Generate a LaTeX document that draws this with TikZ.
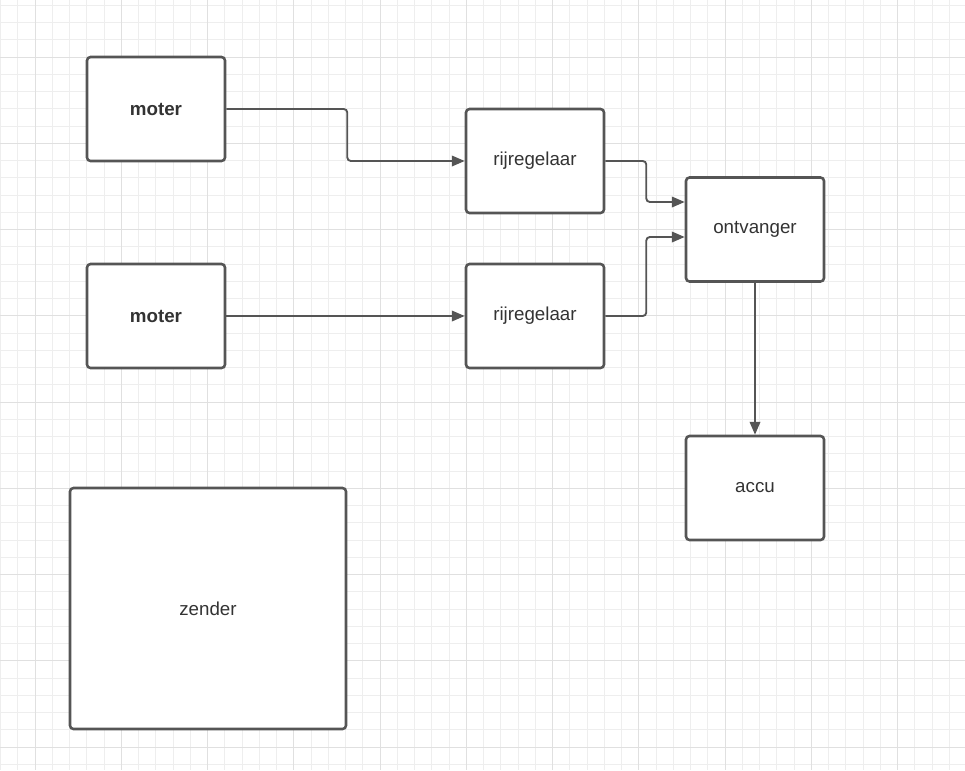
\documentclass[tikz,border=0pt]{standalone}
\usepackage{fontspec}
\setmainfont{Liberation Sans}
\usetikzlibrary{arrows.meta}

\definecolor{lijn}{HTML}{555555}
\definecolor{tekst}{HTML}{333333}
\definecolor{hulp}{HTML}{EEEEEE}
\definecolor{hulpdik}{HTML}{E0E0E0}

\begin{document}
\begin{tikzpicture}[x=0.03cm, y=-0.03cm,
  blok/.style={draw=lijn, line width=2.2pt, fill=white, rounded corners=3pt,
    minimum width=4.14cm, minimum height=3.12cm, text=tekst, font=\fontsize{16}{19}\selectfont},
  pijl/.style={draw=lijn, line width=1.6pt, rounded corners=3pt,
    -{Triangle[length=11pt, width=9pt]}}]
\useasboundingbox (0,0) rectangle (965,770);

% raster
\foreach \i in {0,...,55}
  \draw[hulp, line width=0.6pt] (0.5+17.25*\i, 0) -- ++(0, 770);
\foreach \j in {0,...,44}
  \draw[hulp, line width=0.6pt] (0, 5.25+17.25*\j) -- ++(965, 0);
\foreach \i in {0,...,11}
  \draw[hulpdik, line width=0.8pt] (35+86.25*\i, 0) -- ++(0, 770);
\foreach \j in {0,...,8}
  \draw[hulpdik, line width=0.8pt] (0, 57+86.25*\j) -- ++(965, 0);

\node[blok, font=\fontsize{16}{19}\selectfont\bfseries] (moterA) at (156,109) {moter};
\node[blok, font=\fontsize{16}{19}\selectfont\bfseries] (moterB) at (156,316) {moter};
\node[blok] (regelaarA) at (535,161) {rijregelaar};
\node[blok] (regelaarB) at (535,316) {rijregelaar};
\node[blok] (ontvanger) at (755,229.5) {ontvanger};
\node[blok] (accu) at (755,488) {accu};
\node[blok, minimum width=8.28cm, minimum height=7.23cm] (zender) at (208,608.5) {zender};

\draw[pijl] (moterA.east) -- ++(121,0) |- (regelaarA.west);
\draw[pijl] (moterB.east) -- (regelaarB.west);
\draw[pijl] (regelaarA.east) -- ++(41,0) |- ([yshift=0.825cm]ontvanger.west);
\draw[pijl] (regelaarB.east) -- ++(41,0) |- ([yshift=-0.225cm]ontvanger.west);
\draw[pijl] (ontvanger.south) -- (accu.north);

\end{tikzpicture}
\end{document}
